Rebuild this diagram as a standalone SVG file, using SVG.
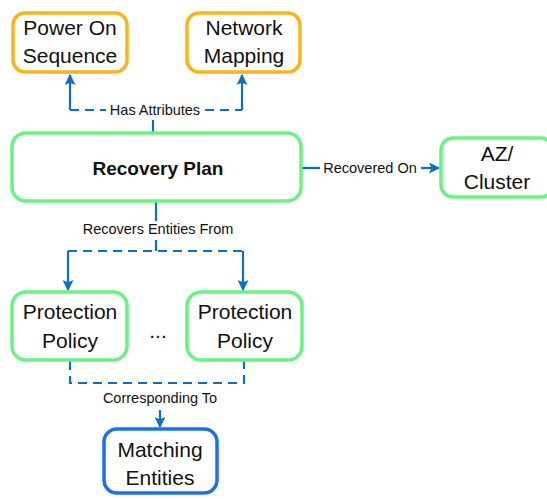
<svg xmlns="http://www.w3.org/2000/svg" width="547" height="499" viewBox="0 0 547 499">
<defs>
<marker id="ah" viewBox="0 0 10 10" refX="9" refY="5" markerWidth="11" markerHeight="11" orient="auto" markerUnits="userSpaceOnUse">
<path d="M0,0 L10,5 L0,10 L2,5 z" fill="#0B70C2"/>
</marker>
<style>
.box{fill:#fff;stroke-width:3.5}
.org{stroke:#F9B51B}
.grn{stroke:#6AF282}
.blu{stroke:#1C6FEF}
.t{font-family:"Liberation Sans",Arial,sans-serif;font-size:21px;fill:#111;text-anchor:middle}
.b{font-family:"Liberation Sans",Arial,sans-serif;font-size:19px;font-weight:bold;fill:#111;text-anchor:middle}
.l{font-family:"Liberation Sans",Arial,sans-serif;font-size:14.5px;fill:#111;text-anchor:middle}
.c{fill:none;stroke:#0B70C2;stroke-width:2.2}
.d{stroke-dasharray:9,6}
</style>
</defs>
<rect width="547" height="499" fill="#fff"/>
<g id="connectors">
<path class="c" d="M153,133 V120"/>
<path class="c d" d="M70,110 H242"/>
<path class="c" d="M70,110 V100"/>
<path class="c" d="M70,100 V75" marker-end="url(#ah)"/>
<path class="c" d="M242,110 V75" marker-end="url(#ah)"/>
<rect x="106" y="100" width="98" height="20" fill="#fff"/>
<text class="l" x="155" y="115">Has Attributes</text>
<path class="c" d="M302,168 H320"/>
<path class="c" d="M421,168 H439" marker-end="url(#ah)"/>
<text class="l" x="370" y="173">Recovered On</text>
<path class="c" d="M156,202 V221"/>
<text class="l" x="158" y="234">Recovers Entities From</text>
<path class="c" d="M156,240 V251"/>
<path class="c d" d="M68,251 H243"/>
<path class="c" d="M68,251 V290" marker-end="url(#ah)"/>
<path class="c" d="M243,251 V290" marker-end="url(#ah)"/>
<path class="c d" d="M70,361 V383 H244 V361"/>
<text class="l" x="160" y="403">Corresponding To</text>
<path class="c d" d="M160,410 V427" marker-end="url(#ah)"/>
</g>
<g id="power-on-sequence">
<rect class="box org" x="13" y="13" width="114" height="59" rx="12"/>
<text class="t" x="70" y="35">Power On</text>
<text class="t" x="70" y="63">Sequence</text>
</g>
<g id="network-mapping">
<rect class="box org" x="187" y="13" width="113" height="59" rx="12"/>
<text class="t" x="244" y="35">Network</text>
<text class="t" x="244" y="63">Mapping</text>
</g>
<g id="recovery-plan">
<rect class="box grn" x="12" y="133" width="289" height="68" rx="14"/>
<text class="b" x="158" y="175">Recovery Plan</text>
</g>
<g id="az-cluster">
<rect class="box grn" x="441" y="138" width="112" height="59" rx="12"/>
<text class="t" x="497" y="161">AZ/</text>
<text class="t" x="497" y="189">Cluster</text>
</g>
<g id="protection-policy-1">
<rect class="box grn" x="12" y="292" width="115" height="68" rx="14"/>
<text class="t" x="70" y="319">Protection</text>
<text class="t" x="70" y="348">Policy</text>
</g>
<text class="t" x="158" y="338">...</text>
<g id="protection-policy-2">
<rect class="box grn" x="187" y="292" width="115" height="68" rx="14"/>
<text class="t" x="245" y="319">Protection</text>
<text class="t" x="245" y="348">Policy</text>
</g>
<g id="matching-entities">
<rect class="box blu" x="104" y="429" width="113" height="64" rx="13"/>
<text class="t" x="160" y="457">Matching</text>
<text class="t" x="160" y="485">Entities</text>
</g>
</svg>
